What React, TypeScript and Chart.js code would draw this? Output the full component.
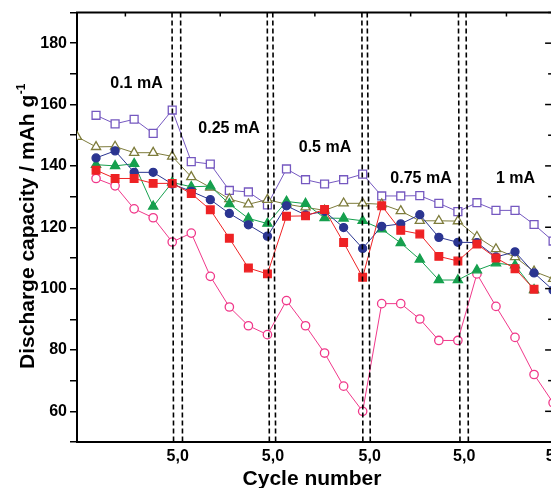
import React, { useEffect, useRef } from 'react';
import { Chart, registerables } from 'chart.js';
Chart.register(...registerables);

// ---------- data ----------
const cycles = [1, 2, 3, 4, 5, 6, 7, 8, 9, 10, 11, 12, 13, 14, 15, 16, 17, 18, 19, 20, 21, 22, 23, 24, 25];
const oliveCycles = [0, 1, 2, 3, 4, 5, 6, 7, 8, 9, 10, 11, 12, 13, 14, 15, 16, 17, 18, 19, 20, 21, 22, 23, 24, 25];

const purpleOpenSquares = [156.5, 153.7, 155.2, 150.6, 158.2, 141.4, 140.6, 132.0, 131.5, 127.3, 139.0, 135.5, 134.1, 135.5, 137.3, 130.2, 130.2, 130.3, 127.8, 125.1, 128.0, 125.5, 125.5, 120.9, 115.5];
const oliveOpenTriangles = [149.5, 146.2, 146.3, 144.3, 144.3, 143.1, 136.4, 133.0, 129.2, 127.5, 129.0, 127.5, 126.5, 125.5, 127.8, 127.8, 127.5, 125.3, 122.1, 122.1, 122.0, 116.9, 112.9, 110.3, 105.6, 103.2];
const navyCircles = [142.6, 144.9, 137.9, 137.9, 134.1, 131.7, 129.0, 124.5, 120.8, 117.1, 127.0, 124.0, 125.2, 119.9, 113.1, 120.3, 121.1, 124.1, 116.7, 115.1, 115.0, 110.3, 112.0, 105.1, 99.5];
const greenTriangles = [140.4, 140.0, 140.7, 126.8, 134.6, 133.2, 133.4, 127.6, 122.9, 121.2, 128.4, 127.7, 123.0, 122.9, 122.1, 119.4, 114.9, 109.5, 102.8, 102.8, 106.0, 108.3, 107.6, 99.6];
const redSquares = [138.6, 135.9, 135.9, 134.3, 134.3, 131.0, 125.7, 116.4, 106.7, 104.8, 123.6, 123.7, 125.8, 115.0, 103.7, 127.0, 119.0, 117.8, 110.5, 109.0, 114.5, 110.0, 106.5, 99.8];
const pinkOpenCircles = [135.9, 133.5, 126.0, 123.1, 115.2, 118.1, 104.0, 94.0, 87.9, 85.0, 96.1, 87.9, 79.0, 68.2, 60.0, 95.1, 95.1, 90.1, 83.1, 83.1, 104.8, 94.2, 84.1, 72.0, 62.8];

const xTickValues = [5.29, 10.29, 15.37, 20.33, 25.2];
const xTickLabels = ['5,0', '5,0', '5,0', '5,0', '5,0'];
const yMajorTicks = [60, 80, 100, 120, 140, 160, 180];
const yMinorTicks = [50, 70, 90, 110, 130, 150, 170, 190];
const topTicks = [2.54, 7.52, 12.49, 17.52, 22.55];
const dashTop = [4.99, 5.44, 9.99, 10.28, 14.96, 15.24, 20.03, 20.43];
const dashBottom = [5.07, 5.54, 10.1, 10.43, 15.01, 15.4, 20.11, 20.55];
const rateLabels = ['0.1 mA', '0.25 mA', '0.5 mA', '0.75 mA', '1 mA'];

const FONT = '"Liberation Sans", Arial, sans-serif';

const toPoints = (xs: number[], ys: number[]) => ys.map((v, i) => ({ x: xs[i], y: v }));

const decor = {
  id: 'decor',
  afterDatasetsDraw(chart: any) {
    const { ctx, chartArea, scales } = chart;
    const { left, right, top, bottom } = chartArea;
    const x = scales.x;
    const y = scales.y;
    ctx.save();
    // dashed separators
    ctx.strokeStyle = '#000';
    ctx.lineWidth = 1.6;
    ctx.setLineDash([5, 3]);
    dashTop.forEach((t: number, i: number) => {
      ctx.beginPath();
      ctx.moveTo(x.getPixelForValue(t), top);
      ctx.lineTo(x.getPixelForValue(dashBottom[i]), bottom);
      ctx.stroke();
    });
    ctx.setLineDash([]);
    // top & right frame
    ctx.lineWidth = 2;
    ctx.beginPath();
    ctx.moveTo(left - 1, top);
    ctx.lineTo(right, top);
    ctx.lineTo(right, bottom);
    ctx.stroke();
    // top inward ticks
    ctx.lineWidth = 1.5;
    topTicks.forEach((t: number) => {
      const px = x.getPixelForValue(t);
      ctx.beginPath();
      ctx.moveTo(px, top);
      ctx.lineTo(px, top + 4);
      ctx.stroke();
    });
    // right inward ticks
    yMajorTicks.forEach((v: number) => {
      const py = y.getPixelForValue(v);
      ctx.beginPath();
      ctx.moveTo(right, py);
      ctx.lineTo(right - 8, py);
      ctx.stroke();
    });
    yMinorTicks.forEach((v: number) => {
      const py = y.getPixelForValue(v);
      ctx.beginPath();
      ctx.moveTo(right, py);
      ctx.lineTo(right - 5, py);
      ctx.stroke();
    });
    // rate annotations
    ctx.fillStyle = '#000';
    ctx.font = `bold 16px ${FONT}`;
    ctx.textAlign = 'center';
    ctx.textBaseline = 'alphabetic';
    const annPos = [
      [136.5, 87.5],
      [229, 133],
      [325, 152],
      [421, 183],
      [515.5, 183],
    ];
    rateLabels.forEach((s: string, i: number) => {
      ctx.fillText(s, annPos[i][0], annPos[i][1]);
    });
    // x title
    ctx.font = `bold 21px ${FONT}`;
    ctx.fillText('Cycle number', 312, 485);
    // y title
    ctx.save();
    ctx.translate(33.5, 226.5);
    ctx.rotate(-Math.PI / 2);
    ctx.textAlign = 'left';
    const main = 'Discharge capacity / mAh g';
    ctx.font = `bold 21px ${FONT}`;
    const w1 = ctx.measureText(main).width;
    ctx.font = `bold 12px ${FONT}`;
    const w2 = ctx.measureText('-1').width;
    const start = -(w1 + w2) / 2;
    ctx.font = `bold 21px ${FONT}`;
    ctx.fillText(main, start, 0);
    ctx.font = `bold 12px ${FONT}`;
    ctx.fillText('-1', start + w1 + 0.5, -8.5);
    ctx.restore();
    ctx.restore();
  },
};

export default function App() {
  const ref = useRef<HTMLCanvasElement>(null);
  useEffect(() => {
    if (!ref.current) return;
    const mk = (label: string, xs: number[], ys: number[], color: string, style: string, radius: number, filled: boolean) => ({
      label,
      data: toPoints(xs, ys),
      borderColor: color,
      borderWidth: 1,
      pointStyle: style,
      pointRadius: radius,
      pointBorderWidth: 1.3,
      pointBorderColor: color,
      pointBackgroundColor: filled ? color : '#ffffff',
      fill: false,
      tension: 0,
    });
    const chart = new Chart(ref.current, {
      type: 'line',
      data: {
        datasets: [
          mk('red', cycles, redSquares, '#ee2224', 'rect', 5.4, true),
          mk('navy', cycles, navyCircles, '#2b3591', 'circle', 4, true),
          mk('green', cycles, greenTriangles, '#16a04e', 'triangle', 5.3, true),
          mk('olive', oliveCycles, oliveOpenTriangles, '#7e7c3c', 'triangle', 5.3, false),
          mk('purple', cycles, purpleOpenSquares, '#7558c0', 'rect', 5.6, false),
          mk('pink', cycles, pinkOpenCircles, '#f0388a', 'circle', 4.2, false),
        ] as any,
      },
      options: {
        responsive: false,
        animation: false,
        devicePixelRatio: 1,
        layout: { padding: { top: 12.5, right: 6, left: 0, bottom: 0 } },
        plugins: { legend: { display: false }, tooltip: { enabled: false }, title: { display: false } },
        scales: {
          x: {
            type: 'linear',
            min: 0,
            max: 25,
            afterBuildTicks: (s: any) => {
              s.ticks = xTickValues.map((v) => ({ value: v }));
            },
            afterFit: (s: any) => {
              s.height = 46;
              s.paddingLeft = 0;
              s.paddingRight = 0;
            },
            ticks: {
              autoSkip: false,
              maxRotation: 0,
              minRotation: 0,
              padding: 5,
              color: '#000',
              font: { family: FONT, size: 16, weight: 'bold' },
              callback: (_v: any, i: number) => xTickLabels[i],
            },
            grid: { drawOnChartArea: false, drawTicks: false },
            border: { display: true, color: '#000', width: 2 },
          },
          y: {
            type: 'linear',
            min: 50,
            max: 190,
            afterBuildTicks: (s: any) => {
              s.ticks = [...yMinorTicks, ...yMajorTicks].sort((a, b) => a - b).map((v) => ({ value: v }));
            },
            afterFit: (s: any) => {
              s.width = 77;
              s.paddingTop = 0;
              s.paddingBottom = 0;
            },
            ticks: {
              autoSkip: false,
              padding: 3,
              color: '#000',
              font: { family: FONT, size: 16, weight: 'bold' },
              callback: (v: any) => (yMajorTicks.includes(Number(v)) ? String(v) : ''),
            },
            grid: { drawOnChartArea: false, drawTicks: true, tickLength: 7, color: '#000', lineWidth: 1.5 },
            border: { display: true, color: '#000', width: 2 },
          },
        },
      } as any,
      plugins: [decor],
    });
    return () => chart.destroy();
  }, []);
  return (
    <div style={{ position: 'absolute', left: 0, top: 0, width: 551, height: 488, overflow: 'hidden', background: '#fff' }}>
      <canvas ref={ref} width={560} height={488} style={{ display: 'block' }} />
    </div>
  );
}
